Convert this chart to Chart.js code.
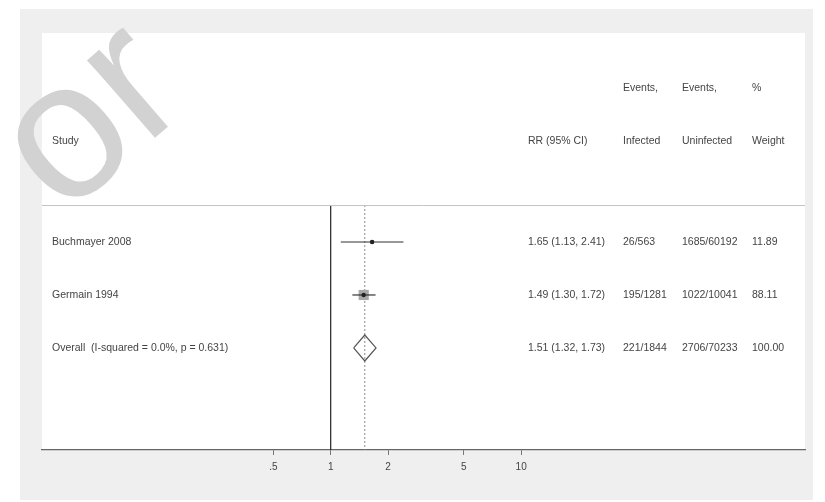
<!DOCTYPE html>
<html><head><meta charset="utf-8">
<script src="https://cdn.jsdelivr.net/npm/chart.js@4.4.1/dist/chart.umd.min.js"></script>
<style>html,body{margin:0;padding:0;background:#fff;}canvas{display:block;}</style>
</head><body>
<canvas id="c" width="825" height="502"></canvas>
<script>
// ---- data ----
const studies = ["Buchmayer 2008", "Germain 1994"];
const rrEst = [1.65, 1.49];
const rrLow = [1.13, 1.30];
const rrHigh = [2.41, 1.72];
const weights = [11.89, 88.11];
const eventsInfected = ["26/563", "195/1281"];
const eventsUninfected = ["1685/60192", "1022/10041"];
const overallLabel = "Overall  (I-squared = 0.0%, p = 0.631)";
const overallEst = [1.51];
const overallLow = [1.32];
const overallHigh = [1.73];
const overallInfected = ["221/1844"];
const overallUninfected = ["2706/70233"];
const overallWeight = [100.00];
const tickValues = [0.5, 1, 2, 5, 10];
const tickLabels = [".5", "1", "2", "5", "10"];
const headerTop = ["", "", "Events,", "Events,", "%"];
const headerBottom = ["Study", "RR (95% CI)", "Infected", "Uninfected", "Weight"];

// ---- layout (row positions on the y scale) ----
const studyRows = [4, 5];
const overallRow = 6;
const headerRows = [1.095, 2.095];
const sepRow = 3.302;
const yMin = 0.057, yMax = 7.925;
const xMin = 0.03051, xMax = 309.0;
const colX = [52, 528, 623, 682, 752];

const fmt2 = v => v.toFixed(2);
const ciText = (e, l, h) => fmt2(e) + " (" + fmt2(l) + ", " + fmt2(h) + ")";

const datasets = [];
// point estimate dots
datasets.push({
  data: rrEst.map((v, i) => ({x: v, y: studyRows[i]})),
  pointStyle: 'circle', pointRadius: 2.2, backgroundColor: '#222', borderColor: '#222', borderWidth: 0, order: 0
});
// CI lines
rrEst.forEach((v, i) => {
  datasets.push({
    data: [{x: rrLow[i], y: studyRows[i]}, {x: rrHigh[i], y: studyRows[i]}],
    showLine: true, borderColor: '#333', borderWidth: 1.2, pointRadius: 0, order: 1
  });
});
// weight boxes
datasets.push({
  data: rrEst.map((v, i) => ({x: v, y: studyRows[i]})),
  pointStyle: 'rect',
  pointRadius: weights.map(w => 7.2 * Math.sqrt(w / 88.11)),
  backgroundColor: '#a8a8a8', borderColor: '#a8a8a8', borderWidth: 0, order: 2
});
// overall diamond
const dh = 0.245;
datasets.push({
  data: [
    {x: overallLow[0], y: overallRow},
    {x: overallEst[0], y: overallRow - dh},
    {x: overallHigh[0], y: overallRow},
    {x: overallEst[0], y: overallRow + dh},
    {x: overallLow[0], y: overallRow}
  ],
  showLine: true, borderColor: '#555', borderWidth: 1.2, pointRadius: 0, tension: 0, order: 3
});
// overall dashed line
datasets.push({
  data: [{x: overallEst[0], y: sepRow}, {x: overallEst[0], y: yMax}],
  showLine: true, borderColor: '#8a8a8a', borderWidth: 1, borderDash: [2, 2], pointRadius: 0, order: 4
});
// null line
datasets.push({
  data: [{x: 1, y: sepRow}, {x: 1, y: yMax}],
  showLine: true, borderColor: '#222', borderWidth: 1.2, pointRadius: 0, order: 5
});

const decor = {
  id: 'decor',
  beforeDraw(chart) {
    const ctx = chart.ctx, a = chart.chartArea;
    ctx.save();
    ctx.fillStyle = '#efefef';
    ctx.fillRect(20, 9, 793, 491);
    ctx.fillStyle = '#ffffff';
    ctx.fillRect(a.left, a.top, a.right - a.left, a.bottom - a.top);
    // watermark
    ctx.translate(63, 218);
    ctx.rotate(-41 * Math.PI / 180);
    ctx.fillStyle = '#d2d2d2';
    ctx.font = '195px "Liberation Sans", Arial, sans-serif';
    ctx.textBaseline = 'alphabetic';
    ctx.fillText('or', 0, 0);
    ctx.restore();
  },
  afterDatasetsDraw(chart) {
    const ctx = chart.ctx, a = chart.chartArea, y = chart.scales.y;
    ctx.save();
    // separator
    ctx.strokeStyle = '#c4c4c4';
    ctx.lineWidth = 1;
    const sy = Math.round(y.getPixelForValue(sepRow)) + 0.5;
    ctx.beginPath(); ctx.moveTo(a.left, sy); ctx.lineTo(a.right, sy); ctx.stroke();
    ctx.fillStyle = '#444';
    ctx.font = '10.5px "Liberation Sans", Arial, sans-serif';
    ctx.textBaseline = 'middle';
    ctx.textAlign = 'left';
    headerTop.forEach((t, i) => { if (t) ctx.fillText(t, colX[i], y.getPixelForValue(headerRows[0])); });
    headerBottom.forEach((t, i) => ctx.fillText(t, colX[i], y.getPixelForValue(headerRows[1])));
    studies.forEach((s, i) => {
      const py = y.getPixelForValue(studyRows[i]);
      ctx.fillText(s, colX[0], py);
      ctx.fillText(ciText(rrEst[i], rrLow[i], rrHigh[i]), colX[1], py);
      ctx.fillText(eventsInfected[i], colX[2], py);
      ctx.fillText(eventsUninfected[i], colX[3], py);
      ctx.fillText(fmt2(weights[i]), colX[4], py);
    });
    const oy = y.getPixelForValue(overallRow);
    ctx.fillText(overallLabel, colX[0], oy);
    ctx.fillText(ciText(overallEst[0], overallLow[0], overallHigh[0]), colX[1], oy);
    ctx.fillText(overallInfected[0], colX[2], oy);
    ctx.fillText(overallUninfected[0], colX[3], oy);
    ctx.fillText(fmt2(overallWeight[0]), colX[4], oy);
    ctx.restore();
  }
};

new Chart(document.getElementById('c'), {
  type: 'scatter',
  data: {datasets},
  options: {
    responsive: false,
    animation: false,
    events: [],
    layout: {padding: {left: 42, right: 20, top: 33, bottom: 0}},
    plugins: {legend: {display: false}, tooltip: {enabled: false}},
    scales: {
      x: {
        type: 'logarithmic',
        min: xMin, max: xMax,
        afterBuildTicks: s => { s.ticks = tickValues.map(v => ({value: v})); },
        afterFit: s => { s.height = 52; },
        ticks: {
          autoSkip: false, maxRotation: 0, padding: 6, color: '#444',
          font: {family: '"Liberation Sans", Arial, sans-serif', size: 10},
          callback: (v) => { const i = tickValues.indexOf(v); return i >= 0 ? tickLabels[i] : ''; }
        },
        grid: {drawOnChartArea: false, drawTicks: true, tickLength: 5, color: '#777'},
        border: {display: true, color: '#666', width: 1.2}
      },
      y: {
        display: false, min: yMin, max: yMax, reverse: true
      }
    }
  },
  plugins: [decor]
});
</script>
</body></html>
